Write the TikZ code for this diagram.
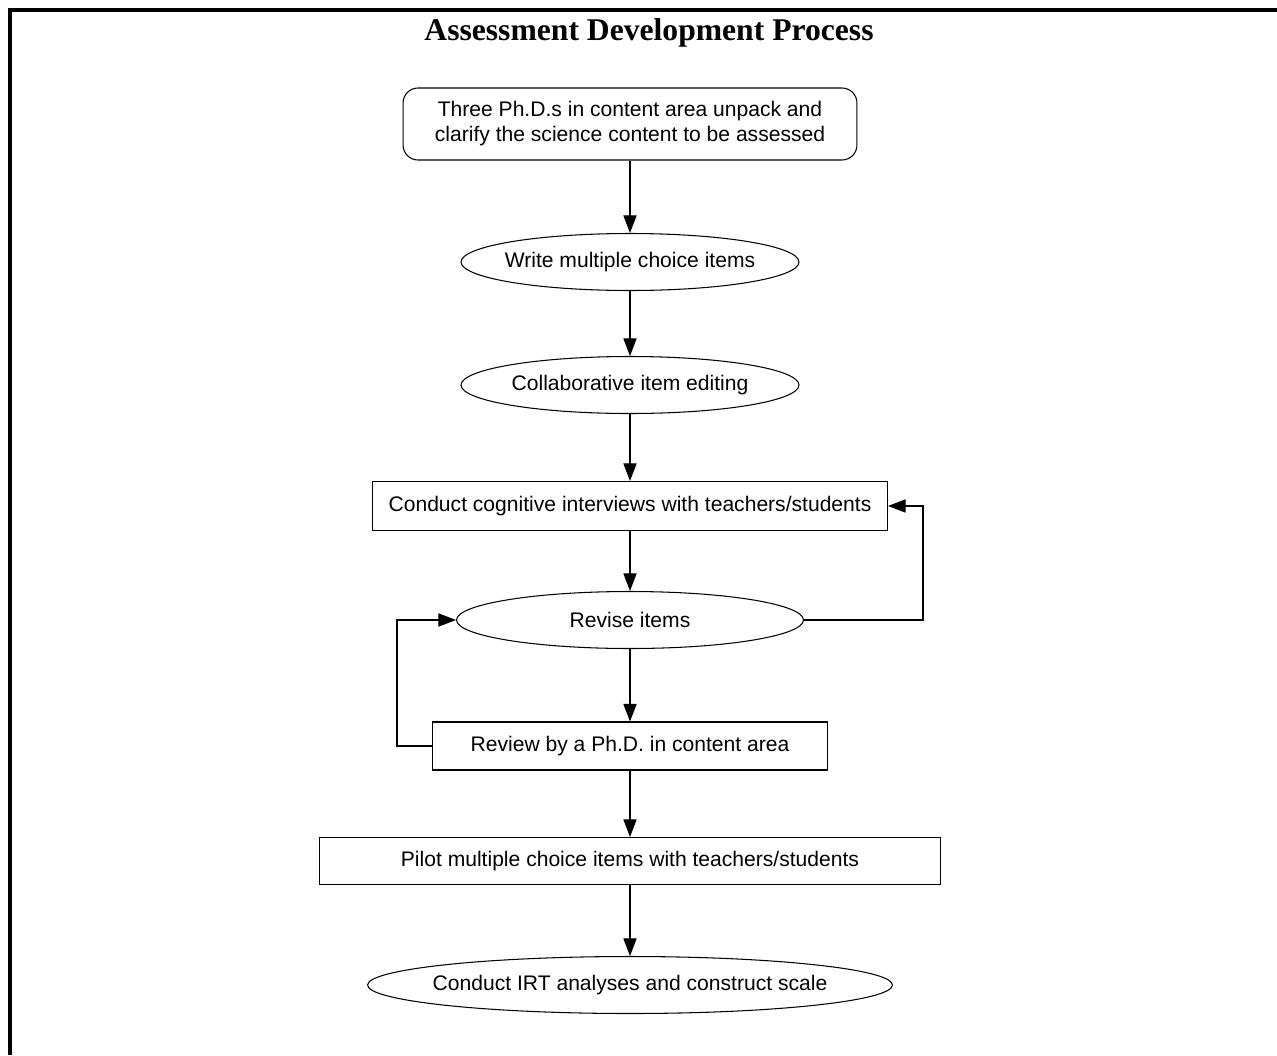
\documentclass[tikz,border=0pt]{standalone}
\usepackage{fontspec}
\setmainfont{Liberation Sans}
\newfontfamily\titlefont{Liberation Serif}
\usetikzlibrary{arrows.meta,shapes.geometric,positioning}
\tikzset{roundbox/.style={
            draw,
            rounded corners=0.3cm,
            line width=0.6pt,
            align=center,
            inner sep=0pt,
            minimum width=9.08cm,
            minimum height=1.44cm
        },
        ovalbox/.style={
            draw,
            ellipse,
            line width=0.6pt,
            inner sep=0pt,
            minimum height=1.14cm
        },
        stepbox/.style={
            draw,
            rectangle,
            line width=0.6pt,
            inner sep=0pt
        },
        flow/.style={
            -{Triangle[length=10pt,width=7.5pt]},
            line width=0.6pt
        },
        pageframe/.style={
            line width=2.2pt
        }
    }

\begin{document}
\begin{tikzpicture}[x=0.02cm,y=-0.02cm,font=\fontsize{12}{14.2}\selectfont]
        \useasboundingbox (0,0) rectangle (1277,1055);
        \draw[pageframe] (10,1055) -- (10,10) -- (1277,10);
        \node[font=\titlefont\bfseries\fontsize{18}{22}\selectfont] at (649,33) (title) {Assessment Development Process};
        \node[roundbox] at (630,124) (unpack) {Three Ph.D.s in content area unpack and\\clarify the science content to be assessed};
        \node[ovalbox,minimum width=6.76cm,label=center:{Write multiple choice items}] at (630,262) (write) {};
        \node[ovalbox,minimum width=6.76cm,label=center:{Collaborative item editing}] at (630,385) (edit) {};
        \node[stepbox,minimum width=10.3cm,minimum height=0.98cm] at (630,506) (interview) {Conduct cognitive interviews with teachers/students};
        \node[ovalbox,minimum width=6.94cm,label=center:{Revise items}] at (630,620) (revise) {};
        \node[stepbox,minimum width=7.9cm,minimum height=0.96cm] at (630,746) (review) {Review by a Ph.D. in content area};
        \node[stepbox,minimum width=12.44cm,minimum height=0.94cm] at (630,861) (pilot) {Pilot multiple choice items with teachers/students};
        \node[ovalbox,minimum width=10.5cm,label=center:{Conduct IRT analyses and construct scale}] at (630,985) (irt) {};
        \draw[flow] (unpack) -- (write);
        \draw[flow] (write) -- (edit);
        \draw[flow] (edit) -- (interview);
        \draw[flow] (interview) -- (revise);
        \draw[flow] (revise) -- (review);
        \draw[flow] (review) -- (pilot);
        \draw[flow] (pilot) -- (irt);
        % loops back
        \draw[flow] (revise.east) -- ++(119,0) |- (interview.east);
        \draw[flow] (review.west) -- ++(-35,0) |- (revise.west);
    \end{tikzpicture}
\end{document}
